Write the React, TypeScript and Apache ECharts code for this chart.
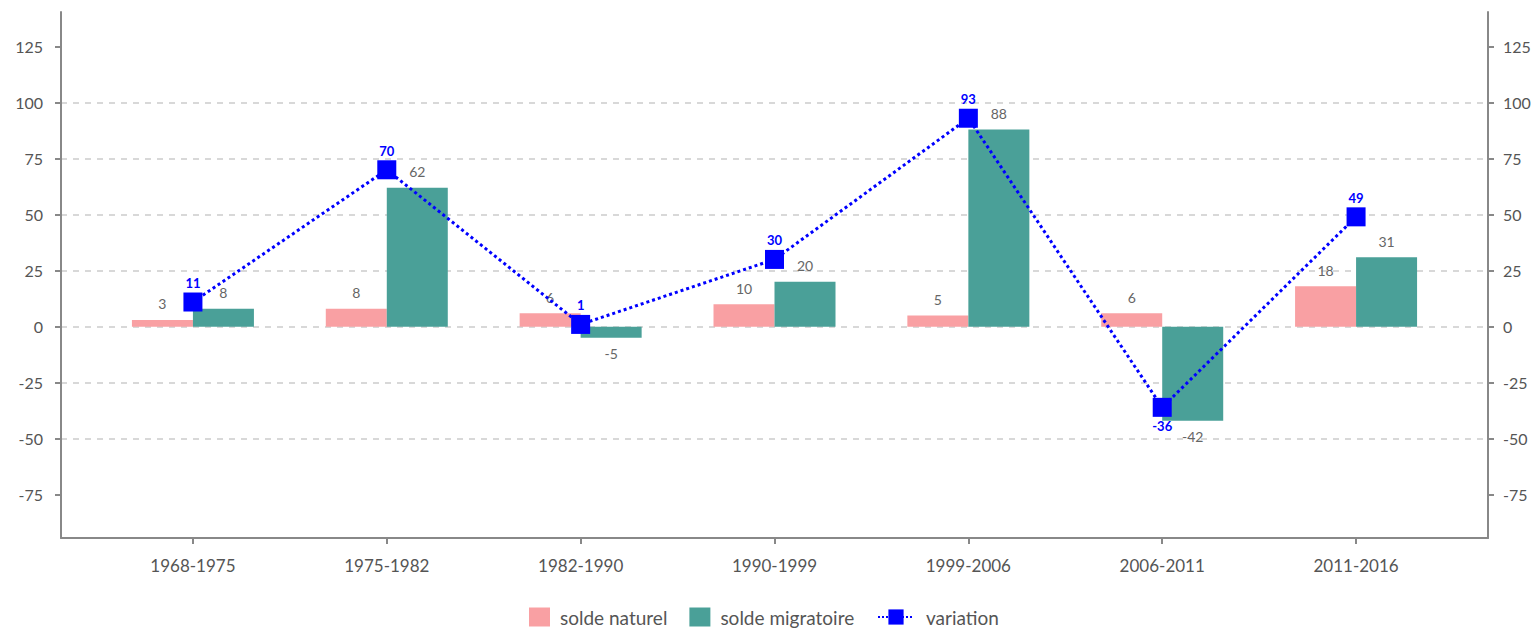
import React, { useEffect, useRef } from "react";
import * as echarts from "echarts";

const categories = ["1968-1975", "1975-1982", "1982-1990", "1990-1999", "1999-2006", "2006-2011", "2011-2016"];
const soldeNaturel = [3, 8, 6, 10, 5, 6, 18];
const soldeMigratoire = [8, 62, -5, 20, 88, -42, 31];
const variation = [11, 70, 1, 30, 93, -36, 49];
const yTicks = [-75, -50, -25, 0, 25, 50, 75, 100, 125];
const yMin = -94.3;
const yMax = 140.4;

const FONT = "Lato";
const AXIS_COLOR = "#888888";
const TEXT_COLOR = "#555555";

function barData(values: number[]) {
  return values.map((v) => ({
    value: v,
    label: { position: v < 0 ? "bottom" : "top" },
  }));
}

export default function App() {
  const ref = useRef<HTMLDivElement>(null);
  useEffect(() => {
    if (!ref.current) return;
    const chart = echarts.init(ref.current, undefined, { renderer: "svg" });
    const yCommon = {
      type: "value",
      min: yMin,
      max: yMax,
      axisLine: { show: true, onZero: false, lineStyle: { color: AXIS_COLOR, width: 2 } },
      axisTick: { show: true, length: 6, customValues: yTicks, lineStyle: { color: AXIS_COLOR, width: 2 } },
      axisLabel: {
        customValues: yTicks,
        color: TEXT_COLOR,
        fontFamily: FONT,
        fontSize: 16,
      },
    };
    const legendText = { color: TEXT_COLOR, fontFamily: FONT, fontSize: 19, lineHeight: 20 };
    chart.setOption({
      animation: false,
      textStyle: { fontFamily: FONT },
      grid: [
        { left: 61, right: 49, top: 12, bottom: 90 },
        { left: 96, right: 84, top: 12, bottom: 90 },
      ],
      xAxis: [
        {
          type: "value",
          gridIndex: 0,
          min: 0,
          max: 1,
          position: "bottom",
          axisLine: { show: true, onZero: false, lineStyle: { color: AXIS_COLOR, width: 2 } },
          axisTick: { show: false },
          axisLabel: { show: false },
          splitLine: { show: false },
        },
        {
          type: "category",
          gridIndex: 1,
          data: categories,
          position: "bottom",
          axisLine: { show: false, onZero: false },
          axisTick: { show: true, alignWithLabel: true, length: 6, lineStyle: { color: AXIS_COLOR, width: 2 } },
          axisLabel: { color: TEXT_COLOR, fontFamily: FONT, fontSize: 17, margin: 19 },
          splitLine: { show: false },
        },
      ],
      yAxis: [
        {
          ...yCommon,
          gridIndex: 0,
          position: "left",
          axisLabel: { ...yCommon.axisLabel, margin: 18 },
          splitLine: {
            show: true,
            showMinLine: false,
            showMaxLine: false,
            lineStyle: { color: "#cccccc", type: [6, 6], width: 1.5 },
          },
        },
        {
          ...yCommon,
          gridIndex: 0,
          position: "right",
          axisLabel: { ...yCommon.axisLabel, margin: 15 },
          splitLine: { show: false },
        },
        {
          type: "value",
          gridIndex: 1,
          min: yMin,
          max: yMax,
          show: false,
          splitLine: { show: false },
        },
      ],
      legend: [
        {
          left: 529,
          top: 607,
          padding: 0,
          itemWidth: 21,
          itemHeight: 19,
          itemGap: 22,
          icon: "rect",
          data: ["solde naturel", "solde migratoire"],
          textStyle: { ...legendText, padding: [0, 0, 0, 5] },
        },
        {
          left: 877,
          top: 607,
          padding: 0,
          itemWidth: 36,
          itemHeight: 19,
          data: ["variation"],
          textStyle: { ...legendText, padding: [0, 0, 0, 7] },
        },
      ],
      series: [
        {
          name: "solde naturel",
          type: "bar",
          xAxisIndex: 1,
          yAxisIndex: 2,
          data: barData(soldeNaturel),
          barWidth: 61,
          barGap: "0%",
          itemStyle: { color: "#f9a0a3" },
          label: { show: true, color: "#666666", fontFamily: FONT, fontSize: 14, distance: 9 },
        },
        {
          name: "solde migratoire",
          type: "bar",
          xAxisIndex: 1,
          yAxisIndex: 2,
          data: barData(soldeMigratoire),
          barWidth: 61,
          barGap: "0%",
          itemStyle: { color: "#4aa098" },
          label: { show: true, color: "#666666", fontFamily: FONT, fontSize: 14, distance: 9 },
        },
        {
          name: "variation",
          type: "line",
          xAxisIndex: 1,
          yAxisIndex: 2,
          z: 5,
          data: variation.map((v) => ({
            value: v,
            label: { position: v < 0 ? "bottom" : "top" },
          })),
          symbol: "rect",
          symbolSize: 19,
          itemStyle: { color: "#0000ff" },
          lineStyle: { color: "#0000ff", width: 3, type: "dotted" },
          label: {
            show: true,
            color: "#0000ff",
            fontFamily: FONT,
            fontWeight: "bold",
            fontSize: 13,
            distance: 3,
          },
        },
      ],
    });
    return () => chart.dispose();
  }, []);
  return (
    <div
      ref={ref}
      style={{ position: "fixed", left: 0, top: 0, width: 1537, height: 628, background: "#ffffff" }}
    />
  );
}
